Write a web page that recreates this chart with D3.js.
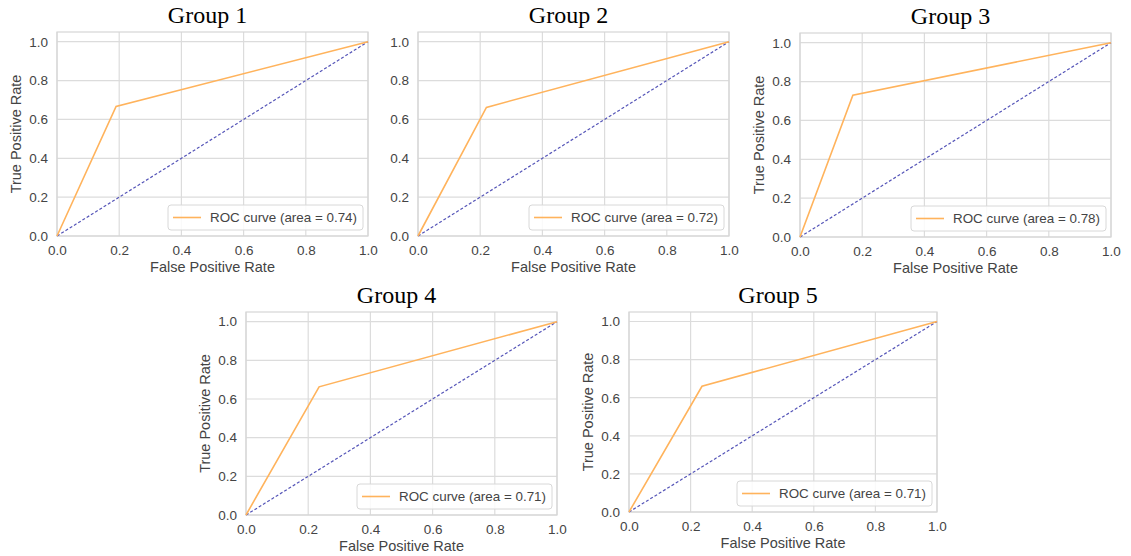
<!DOCTYPE html>
<html>
<head>
<meta charset="utf-8">
<script src="https://cdn.jsdelivr.net/npm/d3@7"></script>
<style>
  body { margin: 0; background: #fff; }
  text { font-family: "Liberation Sans", Arial, sans-serif; }
</style>
</head>
<body>
<svg id="chart" width="1131" height="556"></svg>
<script>
// ROC data per group: one operating point between (0,0) and (1,1)
const groups = ["Group 1", "Group 2", "Group 3", "Group 4", "Group 5"];
const fprPoints = [0.19, 0.22, 0.17, 0.235, 0.237];
const tprPoints = [0.667, 0.662, 0.73, 0.663, 0.66];
const aucValues = ["0.74", "0.72", "0.78", "0.71", "0.71"];
const xTicks = [0, 0.2, 0.4, 0.6, 0.8, 1.0];
const yTicks = [0, 0.2, 0.4, 0.6, 0.8, 1.0];

// where each panel's axes frame sits on the page
const layout = [
  {left: 57, top: 32, width: 311, height: 204, ylab: true},
  {left: 418, top: 32, width: 311, height: 204, ylab: false},
  {left: 800, top: 33, width: 311, height: 204, ylab: true},
  {left: 246, top: 312, width: 311, height: 203, ylab: true},
  {left: 629, top: 312, width: 308, height: 200, ylab: true}
];

const svg = d3.select("#chart");
const gridColor = "#dcdcdc";
const textColor = "#444";

groups.forEach((name, i) => {
  const box = layout[i];
  const g = svg.append("g").attr("transform", `translate(${box.left},${box.top})`);

  const x = d3.scaleLinear().domain([0, 1]).range([0, box.width]);
  const y = d3.scaleLinear().domain([0, 1.05]).range([box.height, 0]);

  // grid
  g.selectAll(".gx").data(xTicks).join("line")
    .attr("x1", d => x(d)).attr("x2", d => x(d))
    .attr("y1", 0).attr("y2", box.height)
    .attr("stroke", gridColor).attr("stroke-width", 1.2);
  g.selectAll(".gy").data(yTicks).join("line")
    .attr("x1", 0).attr("x2", box.width)
    .attr("y1", d => y(d)).attr("y2", d => y(d))
    .attr("stroke", gridColor).attr("stroke-width", 1.2);

  // frame
  g.append("rect")
    .attr("width", box.width).attr("height", box.height)
    .attr("fill", "none").attr("stroke", "#d6d6d6").attr("stroke-width", 1.2);

  // axes (tick labels only, seaborn style)
  const xAxis = g.append("g").attr("transform", `translate(0,${box.height})`)
    .call(d3.axisBottom(x).tickValues(xTicks).tickFormat(d3.format(".1f")).tickSize(0).tickPadding(9));
  const yAxis = g.append("g")
    .call(d3.axisLeft(y).tickValues(yTicks).tickFormat(d3.format(".1f")).tickSize(0).tickPadding(9));
  [xAxis, yAxis].forEach(a => {
    a.select(".domain").remove();
    a.selectAll("text").attr("fill", textColor).style("font-size", "13.5px");
  });

  // diagonal
  const line = d3.line().x(d => x(d[0])).y(d => y(d[1]));
  g.append("path")
    .attr("d", line([[0, 0], [1, 1]]))
    .attr("fill", "none").attr("stroke", "#5555b8")
    .attr("stroke-width", 1.2).attr("stroke-dasharray", "3,2");

  // ROC curve
  g.append("path")
    .attr("d", line([[0, 0], [fprPoints[i], tprPoints[i]], [1, 1]]))
    .attr("fill", "none").attr("stroke", "#ffb35c").attr("stroke-width", 1.6);

  // labels
  g.append("text")
    .attr("x", box.width / 2).attr("y", box.height + 36)
    .attr("text-anchor", "middle").attr("fill", textColor)
    .style("font-size", "14.5px").text("False Positive Rate");
  if (box.ylab) {
    g.append("text")
      .attr("transform", `translate(-36,${box.height / 2}) rotate(-90)`)
      .attr("text-anchor", "middle").attr("fill", textColor)
      .style("font-size", "14.5px").text("True Positive Rate");
  }

  // title
  g.append("text")
    .attr("x", box.width / 2 - 5).attr("y", -9)
    .attr("text-anchor", "middle").attr("fill", "#000")
    .style("font-family", "'Liberation Serif', 'Times New Roman', serif")
    .style("font-size", "24px").text(name);

  // legend
  const lg = g.append("g");
  const lgRect = lg.append("rect").attr("rx", 3).attr("ry", 3)
    .attr("fill", "#fff").attr("fill-opacity", 0.85)
    .attr("stroke", "#d8d8d8").attr("stroke-width", 1);
  const lgText = lg.append("text").attr("fill", textColor)
    .style("font-size", "13.4px")
    .text(`ROC curve (area = ${aucValues[i]})`);
  const tw = lgText.node().getComputedTextLength();
  const lw = 5 + 28 + 9 + tw + 6, lh = 25;
  const lx = box.width - 5 - lw, ly = box.height - 6 - lh;
  lgRect.attr("x", lx).attr("y", ly).attr("width", lw).attr("height", lh);
  lg.append("line")
    .attr("x1", lx + 5).attr("x2", lx + 33)
    .attr("y1", ly + lh / 2).attr("y2", ly + lh / 2)
    .attr("stroke", "#ffb35c").attr("stroke-width", 1.6);
  lgText.attr("x", lx + 42).attr("y", ly + lh / 2 + 4.5);
});
</script>
</body>
</html>
